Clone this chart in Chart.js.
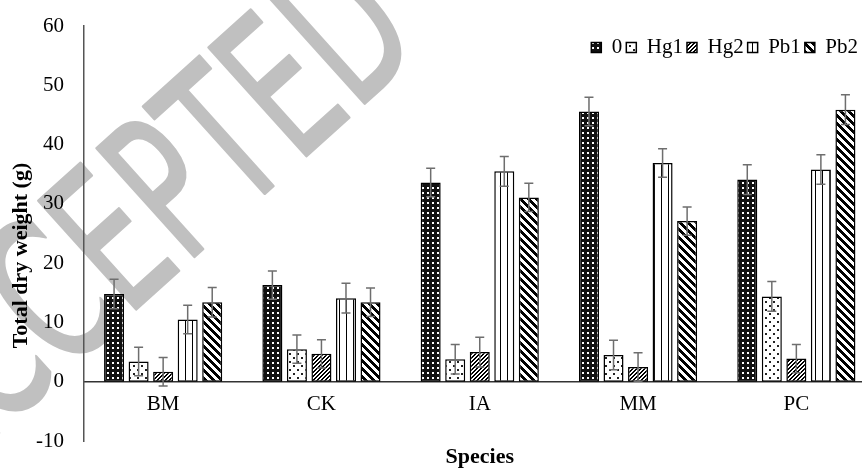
<!DOCTYPE html>
<html>
<head>
<meta charset="utf-8">
<script src="https://cdn.jsdelivr.net/npm/chart.js@4"></script>
<style>
  html, body { margin: 0; padding: 0; background: #fff; overflow: hidden; }
</style>
</head>
<body>
<canvas id="chart" width="880" height="468"></canvas>
<script>
// Total dry weight per species and treatment, with error bars
const species = ['BM', 'CK', 'IA', 'MM', 'PC'];
const treatments = ['0', 'Hg1', 'Hg2', 'Pb1', 'Pb2'];

const val0   = [14.8, 16.3, 33.6, 45.6, 34.1];
const valHg1 = [3.4, 5.5, 3.8, 4.5, 14.4];
const valHg2 = [1.7, 4.7, 5.0, 2.5, 3.9];
const valPb1 = [10.5, 14.1, 35.5, 36.9, 35.8];
const valPb2 = [13.4, 13.4, 31.1, 27.1, 45.9];

const err0   = [2.5, 2.4, 2.4, 2.4, 2.5];
const errHg1 = [2.4, 2.4, 2.5, 2.5, 2.5];
const errHg2 = [2.4, 2.4, 2.5, 2.4, 2.4];
const errPb1 = [2.4, 2.5, 2.5, 2.4, 2.5];
const errPb2 = [2.5, 2.4, 2.4, 2.4, 2.5];

const yTicks = [-10, 0, 10, 20, 30, 40, 50, 60];

// small canvas tiles used as fill patterns (black & white print style)
function tile(w, h, draw){
  const c = document.createElement('canvas');
  c.width = w; c.height = h;
  const g = c.getContext('2d');
  g.fillStyle = '#fff'; g.fillRect(0, 0, w, h);
  draw(g, w, h);
  return g.createPattern(c, 'repeat');
}
function pixels(w, h, test){
  return tile(w, h, g => {
    g.fillStyle = '#000';
    for(let x = 0; x < w; x++) for(let y = 0; y < h; y++) if(test(x, y)) g.fillRect(x, y, 1, 1);
  });
}
const patDarkGrid = tile(5, 5, g => { g.fillStyle = '#111'; g.fillRect(0, 0, 5, 5); g.fillStyle = '#fff'; g.fillRect(2, 2, 2, 2); });
const patDots     = tile(8, 8, g => { g.fillStyle = '#222'; g.fillRect(1, 1, 2, 2); g.fillRect(5, 5, 2, 2); });
const patFwdDiag  = pixels(4, 4, (x, y) => (x + y) % 4 < 2);
const patVert     = pixels(7, 1, (x) => x === 3);
const patBackDiag = pixels(8, 8, (x, y) => ((x - y + 8) % 8) < 4);

const serif = 'Liberation Serif';

const errorBars = {
  id: 'errorBars',
  afterDatasetsDraw(chart){
    const ctx = chart.ctx, y = chart.scales.y;
    ctx.save();
    ctx.strokeStyle = '#6e6e6e';
    ctx.lineWidth = 1.5;
    chart.data.datasets.forEach((ds, i) => {
      chart.getDatasetMeta(i).data.forEach((bar, j) => {
        const top = y.getPixelForValue(ds.data[j] + ds.errors[j]);
        const bot = y.getPixelForValue(ds.data[j] - ds.errors[j]);
        ctx.beginPath();
        ctx.moveTo(bar.x, top); ctx.lineTo(bar.x, bot);
        ctx.moveTo(bar.x - 4.5, top); ctx.lineTo(bar.x + 4.5, top);
        ctx.moveTo(bar.x - 4.5, bot); ctx.lineTo(bar.x + 4.5, bot);
        ctx.stroke();
      });
    });
    ctx.restore();
  }
};

// grey diagonal stamp behind the chart
const watermark = {
  id: 'watermark',
  beforeDraw(chart){
    const ctx = chart.ctx;
    ctx.save();
    ctx.translate(-98, 450);
    ctx.rotate(-42 * Math.PI / 180);
    ctx.scale(0.62, 1);
    ctx.font = '200px "DejaVu Sans"';
    ctx.fillStyle = '#c0c0c0';
    ctx.strokeStyle = '#c0c0c0';
    ctx.lineWidth = 3;
    ctx.lineJoin = 'round';
    ctx.fillText('ACCEPTED', 0, 0);
    ctx.strokeText('ACCEPTED', 0, 0);
    ctx.restore();
  }
};

// the legend sits inside the plot, top right; move it down from the top band
const legendNudge = {
  id: 'legendNudge',
  afterLayout(chart){
    const lg = chart.legend;
    lg.top += 42; lg.bottom += 42;
    lg.left -= 13.5; lg.right -= 13.5;
  }
};

function makeSet(i, data, errors, fill){
  return {
    label: treatments[i], data, errors,
    backgroundColor: fill, borderColor: '#000', borderWidth: 1.5, borderSkipped: false,
    categoryPercentage: 0.775, barPercentage: 0.816
  };
}

new Chart(document.getElementById('chart'), {
  type: 'bar',
  data: {
    labels: species,
    datasets: [
      makeSet(0, val0, err0, patDarkGrid),
      makeSet(1, valHg1, errHg1, patDots),
      makeSet(2, valHg2, errHg2, patFwdDiag),
      makeSet(3, valPb1, errPb1, patVert),
      makeSet(4, valPb2, errPb2, patBackDiag)
    ]
  },
  options: {
    responsive: false,
    animation: false,
    devicePixelRatio: 1,
    layout: { padding: { left: 7.8, right: 4.5, top: -30, bottom: 27 } },
    plugins: {
      tooltip: { enabled: false },
      legend: {
        position: 'top', align: 'end',
        labels: { color: '#000', font: { family: serif, size: 21 }, boxWidth: 10, boxHeight: 10, padding: 4 }
      }
    },
    scales: {
      x: {
        position: { y: 0 },
        grid: { display: false, drawTicks: false },
        border: { color: '#333', width: 1.5 },
        ticks: { padding: 10, color: '#000', font: { family: serif, size: 21 } },
        title: { display: true, text: 'Species', color: '#000', font: { family: serif, size: 22, weight: 'bold' }, padding: { top: 17.6, bottom: 0 } }
      },
      y: {
        min: -10, max: 60,
        afterBuildTicks: s => { s.ticks = yTicks.map(v => ({ value: v })); },
        grid: { display: false, drawTicks: true, tickLength: 6.5 },
        border: { color: '#555', width: 1.5 },
        ticks: { padding: 13.5, color: '#000', font: { family: serif, size: 21 } },
        // trailing spaces push the centred title a little lower, as in the original
        title: { display: true, text: 'Total dry weight (g)        ', color: '#000', font: { family: serif, size: 22, weight: 'bold' }, padding: { top: 0, bottom: -11.7 } }
      }
    }
  },
  plugins: [watermark, errorBars, legendNudge]
});
</script>
</body>
</html>
